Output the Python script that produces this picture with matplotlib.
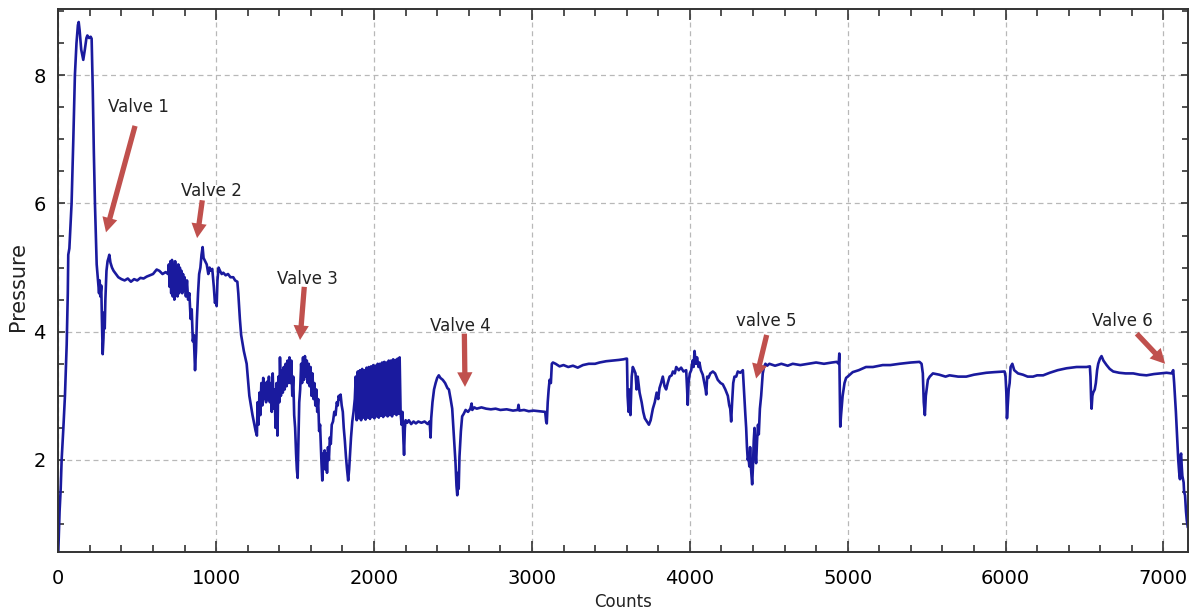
import matplotlib
matplotlib.use('Agg')
import matplotlib.pyplot as plt
from matplotlib.ticker import MultipleLocator

plt.rcParams['font.family'] = ['DejaVu Sans']

# pressure trace (counts, pressure)
counts = [
    0, 8, 15, 21, 32, 42, 53, 60, 63, 70, 84, 95, 105, 115, 124, 129, 135, 145, 158, 168,
    178, 184, 195, 205, 211, 218, 225, 232, 243, 253, 258, 262, 266, 272, 276, 281, 286, 290, 294, 298,
    305, 312, 318, 323, 330, 340, 350, 365, 380, 400, 420, 440, 460, 480, 500, 520, 540, 560, 580, 600,
    623, 640, 660, 680, 695,
    700, 705, 710, 715, 720, 725, 730, 735, 740, 745, 750, 755, 760, 765, 770, 775, 780, 785, 790, 795,
    800, 808, 815, 822, 830, 838, 845, 852, 858, 866, 872, 878, 885, 892, 900, 907, 914, 920, 930, 940,
    950, 958, 965, 975, 985, 992, 998, 1003, 1008, 1015, 1024, 1035, 1045, 1060, 1075, 1090, 1108, 1120, 1134, 1140,
    1150, 1158, 1175, 1193, 1210, 1230, 1250, 1258,
    1262, 1268, 1274, 1280, 1286, 1292, 1298, 1304, 1310, 1316, 1322, 1328, 1334, 1340, 1346, 1352, 1358, 1364, 1370, 1376,
    1382, 1388, 1394, 1400, 1404, 1410, 1416, 1422, 1428, 1434, 1440, 1446, 1452, 1458, 1464, 1470, 1476, 1482, 1488, 1494,
    1500, 1506, 1511, 1516, 1521, 1526, 1532, 1538, 1544, 1550, 1556, 1562, 1568, 1574, 1580, 1586, 1592, 1598, 1604, 1610,
    1616, 1622, 1628, 1634, 1640, 1646, 1652, 1658, 1663, 1667, 1672, 1677, 1682, 1687, 1692, 1697, 1702, 1708, 1714, 1720,
    1726, 1732, 1740, 1748, 1756, 1764, 1770, 1776, 1782, 1788, 1795, 1802, 1808, 1815, 1822, 1829, 1836, 1842, 1848, 1854,
    1862, 1870, 1878, 1884,
    1890, 1897, 1904, 1911, 1918, 1925, 1932, 1939, 1946, 1953, 1960, 1967, 1974, 1981, 1988, 1995, 2002, 2009, 2016, 2023,
    2030, 2037, 2044, 2051, 2058, 2065, 2072, 2079, 2086, 2093, 2100, 2107, 2114, 2121, 2128, 2135, 2142, 2149, 2156, 2162,
    2168,
    2174, 2180, 2186, 2190, 2195, 2200, 2210, 2220, 2235, 2250, 2265, 2280, 2300, 2320, 2340, 2352, 2358, 2362, 2370, 2380,
    2390, 2400, 2410, 2420, 2435, 2450, 2465, 2474, 2485, 2495, 2505, 2516, 2522, 2527, 2532, 2536, 2541, 2550, 2558, 2568,
    2580, 2595, 2610, 2618, 2622, 2635, 2650, 2680, 2710, 2740, 2770, 2800, 2840, 2880, 2910, 2915, 2920, 2950, 2980, 3010,
    3050, 3084, 3090, 3094, 3100, 3106, 3112, 3120, 3126, 3133,
    3150, 3175, 3200, 3230, 3260, 3290, 3323, 3360, 3400, 3428, 3470, 3510, 3550, 3580, 3597, 3602,
    3606, 3612, 3618, 3624, 3632, 3639, 3648, 3656, 3663, 3670, 3682, 3695, 3705, 3715, 3728, 3741, 3752, 3766, 3778, 3790,
    3800, 3808, 3818, 3829, 3840, 3850, 3860, 3872, 3885, 3893, 3905, 3914, 3930, 3945, 3960, 3977, 3983, 3987, 3992, 4000,
    4009, 4018, 4024, 4030, 4038, 4046, 4055, 4061, 4070, 4082, 4092, 4100, 4104, 4110, 4118, 4130, 4146, 4160, 4177, 4195,
    4209, 4225, 4241, 4250, 4256, 4262, 4268, 4275, 4283, 4294, 4304, 4320, 4336,
    4346, 4352, 4357, 4362, 4367, 4372, 4377, 4382, 4388, 4395, 4400, 4405, 4410, 4414, 4420, 4426, 4432, 4437, 4444, 4452,
    4458, 4462, 4470, 4479, 4490, 4504, 4540, 4580, 4620, 4652, 4700, 4750, 4800, 4850, 4900, 4930, 4943, 4947, 4950, 4953,
    4958, 4968, 4980, 4990, 5000, 5032, 5070, 5116, 5160, 5222, 5270, 5328, 5400, 5455, 5468, 5476, 5482, 5489, 5495, 5508,
    5520, 5540, 5580, 5620, 5645, 5700, 5751, 5800, 5850, 5878, 5930, 5994, 6000, 6005, 6009, 6014, 6020, 6026, 6032, 6043,
    6055, 6079, 6110, 6140, 6174, 6200, 6238, 6280, 6330, 6386, 6450, 6513, 6534, 6538, 6542, 6545, 6550, 6555, 6565, 6572,
    6580, 6587, 6598, 6608, 6620, 6640, 6660, 6682, 6720, 6760, 6809, 6850, 6893, 6940, 6978, 7020, 7052, 7062, 7068, 7073,
    7079, 7084, 7090, 7094, 7100, 7105, 7108, 7112, 7116, 7120, 7124, 7128, 7131, 7137, 7143, 7148, 7154,
]
pressure = [
    0.58, 1.2, 1.55, 2.0, 2.5, 3.0, 3.8, 4.6, 5.2, 5.3, 6.0, 7.0, 8.0, 8.5, 8.78, 8.83, 8.7, 8.4, 8.24, 8.4,
    8.58, 8.62, 8.58, 8.6, 8.57, 7.8, 6.8, 6.0, 5.05, 4.75, 4.6, 4.8, 4.55, 4.72, 4.2, 3.65, 3.9, 4.3, 4.05, 4.5,
    4.95, 5.1, 5.15, 5.2, 5.08, 5.0, 4.95, 4.9, 4.85, 4.82, 4.8, 4.83, 4.78, 4.82, 4.8, 4.84, 4.83, 4.86, 4.88, 4.9,
    4.97, 4.95, 4.9, 4.93, 4.9,
    5.05, 4.7, 5.1, 4.6, 5.12, 4.55, 5.05, 4.5, 5.1, 4.6, 5.0, 4.55, 5.05, 4.6, 5.0, 4.65, 4.95, 4.6, 4.9, 4.65,
    4.85, 4.55, 4.8, 4.5, 4.6, 4.2, 4.35, 3.85, 3.95, 3.4, 3.7, 4.2, 4.6, 4.9, 5.0, 5.2, 5.32, 5.15, 5.1, 5.05,
    4.9, 5.0, 4.95, 4.98, 4.7, 4.45, 4.5, 4.4, 4.8, 5.0, 4.95, 4.9, 4.92, 4.88, 4.9, 4.85, 4.85, 4.8, 4.78, 4.6,
    4.2, 3.95, 3.7, 3.5, 3.0, 2.7, 2.45, 2.38,
    2.9, 2.55, 3.05, 2.7, 3.2, 2.85, 3.28, 2.95, 3.2, 2.9, 3.22, 2.95, 3.3, 2.9, 3.2, 2.75, 3.35, 2.8, 3.1, 2.5,
    3.2, 2.38, 3.3, 2.9, 3.6, 3.0, 3.4, 3.05, 3.45, 3.1, 3.5, 3.15, 3.55, 3.2, 3.6, 3.2, 3.55, 3.0, 3.3, 2.7,
    2.5, 2.1, 1.85, 1.72, 2.3, 2.9, 3.1, 3.5, 3.2, 3.6, 3.25, 3.62, 3.3, 3.55, 3.2, 3.5, 3.15, 3.45, 3.0, 3.35,
    2.95, 3.2, 2.85, 3.1, 2.75, 2.95, 2.45, 2.55, 2.2, 1.95, 1.68, 2.1, 1.9, 2.15, 1.85, 2.1, 1.8, 2.2, 2.0, 2.35,
    2.25, 2.55, 2.6, 2.75, 2.7, 2.9, 2.85, 3.0, 2.95, 3.02, 2.85, 2.75, 2.5, 2.3, 2.05, 1.85, 1.68, 1.85, 2.1, 2.35,
    2.6, 2.75, 2.95, 3.3,
    2.62, 3.38, 2.65, 3.4, 2.62, 3.42, 2.66, 3.4, 2.63, 3.44, 2.66, 3.45, 2.64, 3.46, 2.67, 3.48, 2.65, 3.47, 2.68, 3.5,
    2.66, 3.5, 2.69, 3.52, 2.67, 3.53, 2.7, 3.52, 2.68, 3.55, 2.7, 3.55, 2.68, 3.57, 2.72, 3.56, 2.7, 3.58, 2.72, 3.6,
    2.75,
    2.55, 2.75, 2.3, 2.08, 2.5, 2.62, 2.58, 2.62, 2.56, 2.6, 2.57, 2.6, 2.58, 2.6, 2.56, 2.6, 2.35, 2.65, 2.9, 3.1,
    3.2, 3.28, 3.32, 3.28, 3.25, 3.2, 3.12, 3.1, 2.95, 2.8, 2.4, 1.95, 1.6, 1.45, 1.8, 1.55, 2.05, 2.45, 2.68, 2.72,
    2.78, 2.75, 2.8, 2.88, 2.78, 2.82, 2.8, 2.82, 2.8, 2.79, 2.8, 2.78, 2.79, 2.77, 2.78, 2.86, 2.77, 2.78, 2.76, 2.77,
    2.76, 2.75, 2.6, 2.57, 2.9, 3.1, 3.25, 3.2, 3.5, 3.52,
    3.5, 3.46, 3.48, 3.45, 3.47, 3.44, 3.48, 3.5, 3.5, 3.52, 3.54, 3.55, 3.56, 3.57, 3.58, 3.58,
    3.0, 2.75, 3.1, 2.7, 3.3, 3.45, 3.4, 3.35, 3.1, 3.3, 3.05, 2.9, 2.75, 2.65, 2.6, 2.55, 2.62, 2.8, 2.9, 3.05,
    2.95, 3.12, 3.2, 3.3, 3.15, 3.1, 3.2, 3.3, 3.32, 3.38, 3.35, 3.45, 3.4, 3.44, 3.38, 3.4, 3.1, 2.86, 3.2, 3.35,
    3.4, 3.55, 3.45, 3.7, 3.5, 3.6, 3.45, 3.52, 3.4, 3.33, 3.2, 3.1, 3.02, 3.3, 3.28, 3.35, 3.38, 3.35, 3.25, 3.2,
    3.18, 3.1, 3.0, 2.85, 2.8, 2.6, 2.9, 3.2, 3.3, 3.3, 3.38, 3.36, 3.4,
    2.95, 2.7, 2.5, 2.2, 2.0, 2.05, 1.9, 2.2, 1.85, 1.62, 1.9, 2.3, 2.5, 2.15, 1.95, 2.3, 2.55, 2.4, 2.8, 3.0,
    3.2, 3.35, 3.45, 3.5, 3.47, 3.5, 3.47, 3.5, 3.47, 3.5, 3.48, 3.5, 3.52, 3.5, 3.52, 3.53, 3.5, 3.66, 3.1, 2.52,
    2.7, 3.0, 3.2, 3.28, 3.3, 3.37, 3.4, 3.45, 3.45, 3.48, 3.48, 3.5, 3.52, 3.53, 3.5, 3.35, 2.9, 2.7, 3.0, 3.25,
    3.3, 3.35, 3.33, 3.3, 3.32, 3.3, 3.3, 3.33, 3.35, 3.36, 3.37, 3.38, 3.3, 3.05, 2.65, 2.85, 3.1, 3.2, 3.45, 3.5,
    3.4, 3.35, 3.33, 3.3, 3.3, 3.32, 3.32, 3.36, 3.4, 3.43, 3.45, 3.45, 3.46, 3.3, 2.95, 2.8, 3.0, 3.05, 3.1, 3.2,
    3.4, 3.5, 3.58, 3.62, 3.55, 3.48, 3.42, 3.38, 3.36, 3.35, 3.35, 3.33, 3.32, 3.34, 3.35, 3.36, 3.35, 3.4, 3.2, 3.0,
    2.75, 2.5, 2.2, 2.0, 1.8, 1.7, 2.05, 2.1, 1.9, 1.75, 1.7, 1.65, 1.5, 1.45, 1.2, 1.06, 0.96,
]

# valve annotations: label, label position, arrow tail, arrow head
valve_labels = ['Valve 1', 'Valve 2', 'Valve 3', 'Valve 4', 'valve 5', 'Valve 6']
label_xy = [(505, 7.50), (967, 6.19), (1579, 4.82), (2545, 4.09), (4485, 4.16), (6738, 4.16)]
arrow_tail = [(486, 7.21), (912, 6.05), (1558, 4.70), (2572, 3.97), (4487, 3.95), (6831, 3.97)]
arrow_head = [(302, 5.55), (879, 5.46), (1531, 3.87), (2576, 3.14), (4420, 3.27), (7011, 3.50)]

fig = plt.figure(figsize=(12, 6.13), dpi=100)
ax = fig.add_axes([0.0486, 0.099, 0.9417, 0.886])

ax.plot(counts, pressure, color='#1a1a9e', linewidth=1.9)

for lab, (tx, ty), tail, head in zip(valve_labels, label_xy, arrow_tail, arrow_head):
    ax.text(tx, ty, lab, fontsize=12, color='#222222', ha='center', va='center')
    ax.annotate('', xy=head, xytext=tail,
                arrowprops=dict(width=3.8, headwidth=11, headlength=10.5,
                                shrink=0, color='#c0504d', linewidth=0))

ax.set_xlim(0, 7158)
ax.set_ylim(0.56, 9.03)
ax.xaxis.set_major_locator(MultipleLocator(1000))
ax.xaxis.set_minor_locator(MultipleLocator(200))
ax.yaxis.set_major_locator(MultipleLocator(2))
ax.yaxis.set_minor_locator(MultipleLocator(0.5))

ax.grid(True, which='major', color='#b8b8b8', linestyle=(0, (4, 3)), linewidth=0.9)

ax.tick_params(which='both', direction='in', top=True, right=True, width=1.2, color='#333333')
ax.tick_params(axis='x', which='major', length=8, labelsize=14, pad=12)
ax.tick_params(axis='x', which='minor', length=5)
ax.tick_params(axis='y', which='major', length=5, labelsize=14, pad=9)
ax.tick_params(axis='y', which='minor', length=4)

for s in ax.spines.values():
    s.set_color('#333333')
    s.set_linewidth(1.4)

ax.set_xlabel('Counts', fontsize=12, color='#222222')
ax.xaxis.set_label_coords(0.5, -0.075)
ax.set_ylabel('Pressure', fontsize=15, color='#222222')
ax.yaxis.set_label_coords(-0.027, 0.49)

plt.savefig('out.png', dpi=100)
plt.close()
